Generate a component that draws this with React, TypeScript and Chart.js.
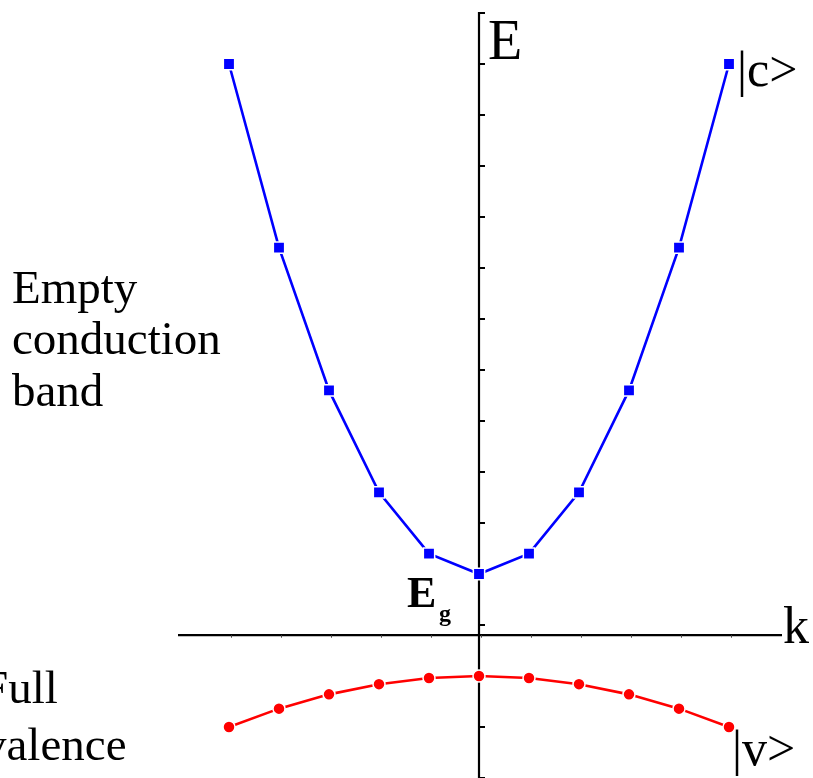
import React, { useEffect, useRef } from "react";
import { Chart, registerables } from "chart.js";

Chart.register(...registerables);

// Wave vector k (arbitrary units)
const kValues = [-5, -4, -3, -2, -1, 0, 1, 2, 3, 4, 5];
// Conduction band |c>: E = Eg + 0.4 k^2
const conductionE = [12, 8.4, 5.6, 3.6, 2.4, 2.0, 2.4, 3.6, 5.6, 8.4, 12];
// Valence band |v>: E = -0.04 k^2
const valenceE = [-1.0, -0.64, -0.36, -0.16, -0.04, 0, -0.04, -0.16, -0.36, -0.64, -1.0];
// Tick marks along the E axis
const eTicks = [-2, -1, 0, 1, 2, 3, 4, 5, 6, 7, 8, 9, 10, 11, 12, 13];
// Tick marks along the k axis
const kTicks = [-5, -4, -3, -2, -1, 0, 1, 2, 3, 4, 5];
// Level at which the k axis crosses the E axis
const kAxisLevel = 0.8;

const SERIF = '"Liberation Serif", "Times New Roman", serif';

const axesPlugin = {
  id: "bandAxes",
  beforeDatasetsDraw(chart: any) {
    const { ctx, scales, chartArea } = chart;
    const xs = scales.x;
    const ys = scales.y;
    const y0 = ys.getPixelForValue(kAxisLevel);
    const x0 = xs.getPixelForValue(0);
    ctx.save();
    ctx.strokeStyle = "#000";
    ctx.lineCap = "butt";

    // k axis
    ctx.lineWidth = 2.2;
    ctx.beginPath();
    ctx.moveTo(chartArea.left - 1, y0);
    ctx.lineTo(xs.getPixelForValue(6.06), y0);
    ctx.stroke();

    ctx.lineWidth = 1;
    ctx.strokeStyle = "#444";
    for (const k of kTicks) {
      const px = Math.round(xs.getPixelForValue(k)) + 2.5;
      ctx.beginPath();
      ctx.moveTo(px, y0);
      ctx.lineTo(px, y0 + 2.5);
      ctx.stroke();
    }

    // E axis
    ctx.strokeStyle = "#000";
    ctx.lineWidth = 2.2;
    ctx.beginPath();
    ctx.moveTo(x0, ys.getPixelForValue(13) - 1);
    ctx.lineTo(x0, chartArea.bottom + 2);
    ctx.stroke();

    ctx.lineWidth = 2;
    for (const e of eTicks) {
      const py = ys.getPixelForValue(e);
      ctx.beginPath();
      ctx.moveTo(x0, py);
      ctx.lineTo(x0 + 6, py);
      ctx.stroke();
    }
    ctx.restore();
  },
  afterDraw(chart: any) {
    const { ctx } = chart;
    ctx.save();
    ctx.fillStyle = "#000";
    ctx.textAlign = "left";
    ctx.textBaseline = "alphabetic";

    ctx.font = `56px ${SERIF}`;
    ctx.fillText("E", 488, 59);

    ctx.font = `52px ${SERIF}`;
    ctx.fillText("k", 783, 643);

    ctx.font = `50px ${SERIF}`;
    ctx.fillText("|c>", 737, 86);
    ctx.fillText("|v>", 732, 765);

    ctx.font = `47px ${SERIF}`;
    ctx.fillText("Empty", 12, 303);
    ctx.fillText("conduction", 12, 354);
    ctx.fillText("band", 12, 406);

    ctx.fillText("Full", -18, 703);
    ctx.fillText("valence", -17, 760);

    ctx.font = `bold 44px ${SERIF}`;
    ctx.fillText("E", 407, 607);
    ctx.font = `bold 24px ${SERIF}`;
    ctx.fillText("g", 439, 621);
    ctx.restore();
  },
};

export default function App() {
  const canvasRef = useRef<HTMLCanvasElement | null>(null);

  useEffect(() => {
    const canvas = canvasRef.current;
    if (!canvas) return;
    const chart = new Chart(canvas, {
      type: "line",
      data: {
        labels: kValues,
        datasets: [
          {
            label: "|c>",
            data: kValues.map((k, i) => ({ x: k, y: conductionE[i] })),
            borderColor: "#0000ff",
            backgroundColor: "#0000ff",
            borderWidth: 2.6,
            pointStyle: "rect",
            pointRadius: 8,
            pointBorderColor: "#ffffff",
            pointBorderWidth: 1.5,
            pointBackgroundColor: "#0000ff",
            tension: 0,
          },
          {
            label: "|v>",
            data: kValues.map((k, i) => ({ x: k, y: valenceE[i] })),
            borderColor: "#ff0000",
            backgroundColor: "#ff0000",
            borderWidth: 2.6,
            pointStyle: "circle",
            pointRadius: 6,
            pointBorderColor: "#ffffff",
            pointBorderWidth: 1.5,
            pointBackgroundColor: "#ff0000",
            tension: 0,
          },
        ],
      },
      options: {
        animation: false,
        responsive: false,
        devicePixelRatio: 1,
        layout: { autoPadding: false, padding: { left: 179, right: 34, top: 13, bottom: 0 } },
        plugins: {
          legend: { display: false },
          tooltip: { enabled: false },
          title: { display: false },
        },
        scales: {
          x: { type: "linear", min: -6, max: 6, display: false },
          y: { type: "linear", min: -2, max: 13, display: false },
        },
        clip: false as any,
      },
      plugins: [axesPlugin],
    });
    return () => chart.destroy();
  }, []);

  return (
    <div style={{ position: "absolute", left: 0, top: 0, width: 813, height: 778, background: "#fff" }}>
      <canvas ref={canvasRef} width={813} height={778} style={{ display: "block" }} />
    </div>
  );
}
